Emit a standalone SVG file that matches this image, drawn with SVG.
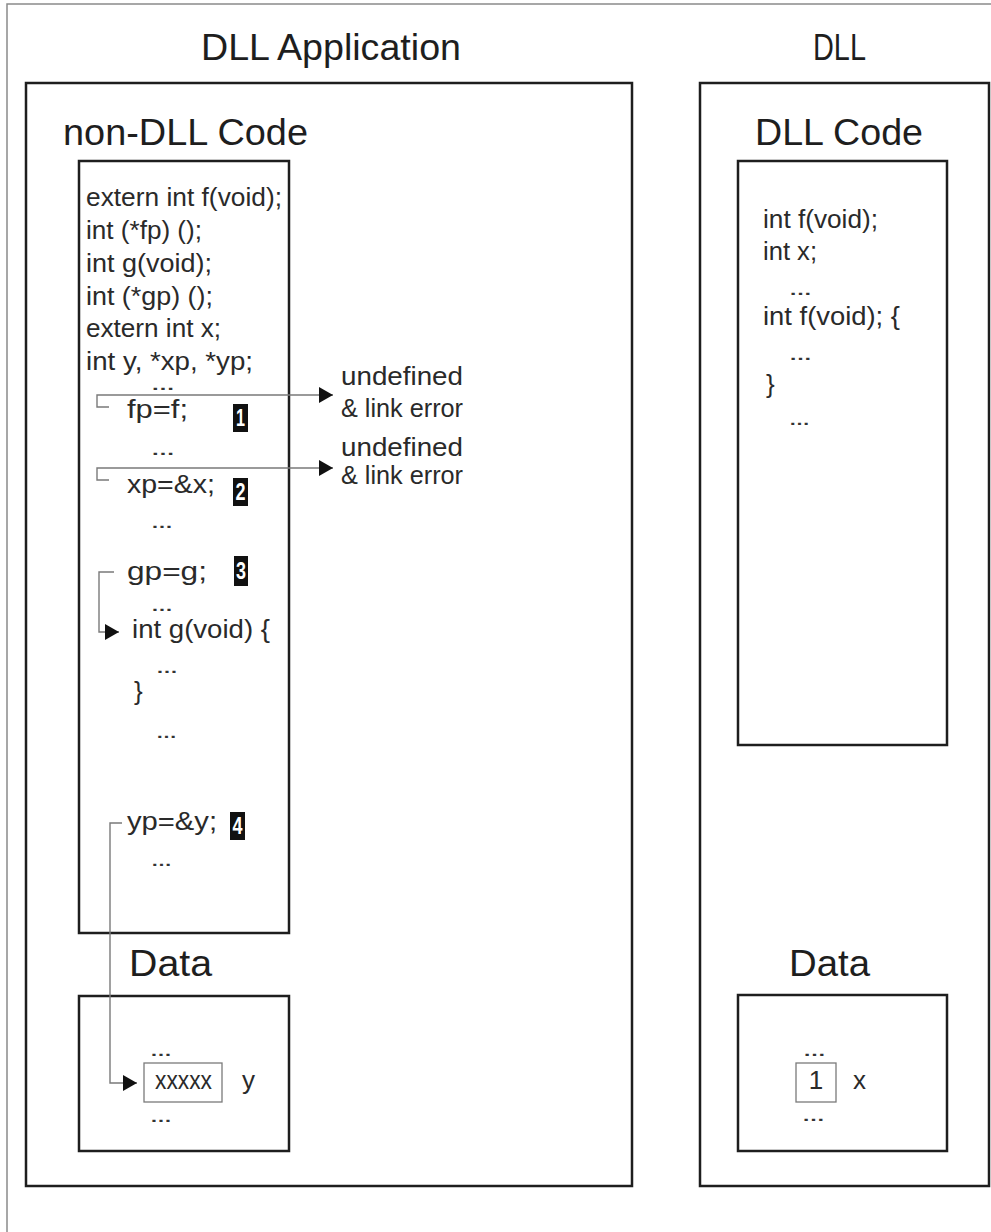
<svg xmlns="http://www.w3.org/2000/svg" width="991" height="1232" viewBox="0 0 991 1232">
<style>
.box{fill:none;stroke:#1e1e1e;stroke-width:2.5}
.frame{fill:none;stroke:#8a8a8a;stroke-width:1.5}
.cell{fill:none;stroke:#7a7a7a;stroke-width:1.3}
.h{font-family:"Liberation Sans",Arial,sans-serif;font-size:37px;fill:#1e1e1e}
.c{font-family:"Liberation Sans",Arial,sans-serif;font-size:26px;fill:#2a2a2a}
.d{font-family:"Liberation Sans",Arial,sans-serif;font-size:14px;font-weight:bold;fill:#333}
.badge{fill:#111}
.bt{font-family:"Liberation Sans",Arial,sans-serif;font-size:24px;font-weight:bold;fill:#fff;text-anchor:middle}
.conn{fill:none;stroke:#7a7a7a;stroke-width:1.4}
</style>
<defs>
<marker id="ah" markerUnits="userSpaceOnUse" markerWidth="14" markerHeight="16" refX="14" refY="8" orient="auto">
<path d="M0,0 L14,8 L0,16 Z" fill="#111"/>
</marker>
</defs>
<rect width="991" height="1232" fill="#fff"/>
<rect class="frame" x="7" y="4" width="1010" height="1260"/>

<g id="app">
<rect class="box" x="26" y="83" width="606" height="1103"/>
<text class="h" x="201" y="60" textLength="260" lengthAdjust="spacingAndGlyphs">DLL Application</text>
</g>

<g id="nondll-code">
<text class="h" x="63" y="145" textLength="245" lengthAdjust="spacingAndGlyphs">non-DLL Code</text>
<rect class="box" x="79" y="161" width="210" height="772"/>
<text class="c" x="86" y="206" textLength="196" lengthAdjust="spacingAndGlyphs">extern int f(void);</text>
<text class="c" x="86" y="239" textLength="116" lengthAdjust="spacingAndGlyphs">int (*fp) ();</text>
<text class="c" x="86" y="272" textLength="126" lengthAdjust="spacingAndGlyphs">int g(void);</text>
<text class="c" x="86" y="305" textLength="127" lengthAdjust="spacingAndGlyphs">int (*gp) ();</text>
<text class="c" x="86" y="337" textLength="135" lengthAdjust="spacingAndGlyphs">extern int x;</text>
<text class="c" x="86" y="370" textLength="167" lengthAdjust="spacingAndGlyphs">int y, *xp, *yp;</text>
<text class="d" x="151" y="390" textLength="24" lengthAdjust="spacingAndGlyphs">…</text>
<text class="c" x="127" y="418" textLength="61" lengthAdjust="spacingAndGlyphs">fp=f;</text>
<text class="d" x="151" y="455" textLength="24" lengthAdjust="spacingAndGlyphs">…</text>
<text class="c" x="127" y="493" textLength="88" lengthAdjust="spacingAndGlyphs">xp=&amp;x;</text>
<text class="d" x="151" y="528" textLength="22" lengthAdjust="spacingAndGlyphs">…</text>
<text class="c" x="127" y="580" textLength="80" lengthAdjust="spacingAndGlyphs">gp=g;</text>
<text class="d" x="151" y="611" textLength="22" lengthAdjust="spacingAndGlyphs">…</text>
<text class="c" x="132" y="638" textLength="138" lengthAdjust="spacingAndGlyphs">int g(void) {</text>
<text class="d" x="156" y="673" textLength="22" lengthAdjust="spacingAndGlyphs">…</text>
<text class="c" x="134" y="700">}</text>
<text class="d" x="156" y="738" textLength="21" lengthAdjust="spacingAndGlyphs">…</text>
<text class="c" x="127" y="830" textLength="90" lengthAdjust="spacingAndGlyphs">yp=&amp;y;</text>
<text class="d" x="151" y="866" textLength="21" lengthAdjust="spacingAndGlyphs">…</text>
</g>

<g id="badge1"><rect class="badge" x="233" y="404" width="15" height="28"/><text class="bt" x="240.5" y="426" textLength="9" lengthAdjust="spacingAndGlyphs">1</text></g>
<g id="badge2"><rect class="badge" x="233" y="478" width="15" height="28"/><text class="bt" x="240.5" y="500" textLength="10" lengthAdjust="spacingAndGlyphs">2</text></g>
<g id="badge3"><rect class="badge" x="234" y="556" width="14" height="30"/><text class="bt" x="241" y="579" textLength="10" lengthAdjust="spacingAndGlyphs">3</text></g>
<g id="badge4"><rect class="badge" x="230" y="812" width="15" height="28"/><text class="bt" x="237.5" y="834" textLength="10" lengthAdjust="spacingAndGlyphs">4</text></g>

<g id="err1">
<text class="c" x="341" y="385" textLength="122" lengthAdjust="spacingAndGlyphs">undefined</text>
<text class="c" x="341" y="417" textLength="122" lengthAdjust="spacingAndGlyphs">&amp; link error</text>
</g>
<g id="err2">
<text class="c" x="341" y="456" textLength="122" lengthAdjust="spacingAndGlyphs">undefined</text>
<text class="c" x="341" y="484" textLength="122" lengthAdjust="spacingAndGlyphs">&amp; link error</text>
</g>

<g id="app-data">
<text class="h" x="129" y="976" textLength="83" lengthAdjust="spacingAndGlyphs">Data</text>
<rect class="box" x="79" y="996" width="210" height="155"/>
<text class="d" x="150" y="1056" textLength="22" lengthAdjust="spacingAndGlyphs">…</text>
<rect class="cell" x="144" y="1063" width="78" height="39"/>
<text class="c" x="155" y="1089" textLength="57" lengthAdjust="spacingAndGlyphs">xxxxx</text>
<text class="c" x="242" y="1089">y</text>
<text class="d" x="150" y="1122" textLength="22" lengthAdjust="spacingAndGlyphs">…</text>
</g>

<g id="dll">
<rect class="box" x="700" y="83" width="289" height="1103"/>
<text class="h" x="813" y="60" textLength="53" lengthAdjust="spacingAndGlyphs">DLL</text>
</g>

<g id="dll-code">
<text class="h" x="755" y="145" textLength="168" lengthAdjust="spacingAndGlyphs">DLL Code</text>
<rect class="box" x="738" y="161" width="209" height="584"/>
<text class="c" x="763" y="228" textLength="115" lengthAdjust="spacingAndGlyphs">int f(void);</text>
<text class="c" x="763" y="260" textLength="54" lengthAdjust="spacingAndGlyphs">int x;</text>
<text class="d" x="789" y="295" textLength="23" lengthAdjust="spacingAndGlyphs">…</text>
<text class="c" x="763" y="325" textLength="137" lengthAdjust="spacingAndGlyphs">int f(void); {</text>
<text class="d" x="789" y="360" textLength="23" lengthAdjust="spacingAndGlyphs">…</text>
<text class="c" x="766" y="393">}</text>
<text class="d" x="789" y="425" textLength="21" lengthAdjust="spacingAndGlyphs">…</text>
</g>

<g id="dll-data">
<text class="h" x="789" y="976" textLength="81" lengthAdjust="spacingAndGlyphs">Data</text>
<rect class="box" x="738" y="995" width="209" height="156"/>
<text class="d" x="803" y="1056" textLength="23" lengthAdjust="spacingAndGlyphs">…</text>
<rect class="cell" x="796" y="1063" width="40" height="39"/>
<text class="c" x="816" y="1089" text-anchor="middle">1</text>
<text class="c" x="853" y="1089">x</text>
<text class="d" x="802" y="1121" textLength="23" lengthAdjust="spacingAndGlyphs">…</text>
</g>

<g id="connectors">
<path class="conn" d="M109,407 H97 V395 H333" marker-end="url(#ah)"/>
<path class="conn" d="M109,480 H97 V468 H333" marker-end="url(#ah)"/>
<path class="conn" d="M114,572 H99 V632 H119" marker-end="url(#ah)"/>
<path class="conn" d="M122,823 H110 V1083 H137" marker-end="url(#ah)"/>
</g>
</svg>
